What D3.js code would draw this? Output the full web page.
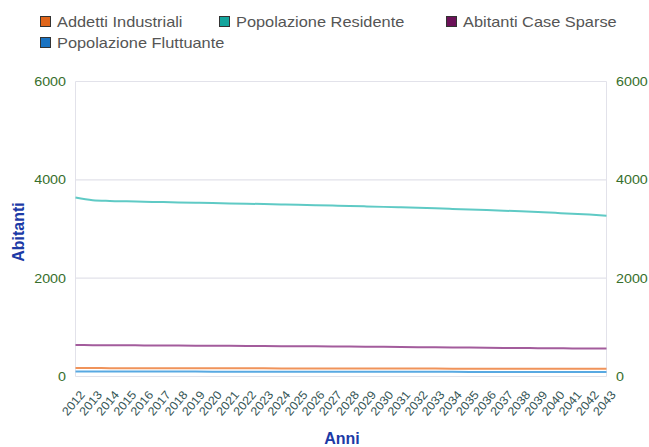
<!DOCTYPE html>
<html><head><meta charset="utf-8">
<script src="https://cdn.jsdelivr.net/npm/d3@7"></script>
<style>body{margin:0;background:#fff;font-family:Arial,"Liberation Sans",sans-serif}</style>
</head><body><svg id="c" width="649" height="447"></svg>
<script>
const years = d3.range(2012, 2044);
const seriesNames = ["Addetti Industriali","Popolazione Residente","Abitanti Case Sparse","Popolazione Fluttuante"];
const seriesColors = ["#e0651a","#14a59d","#6b1158","#1a73c2"];
const lineColors = ["#f0935a","#5fcac5","#a35c9c","#58a9e2"];
const addetti = [171,171,170,170,169,169,168,168,167,167,166,166,165,165,164,164,163,163,162,162,161,161,160,160,159,159,158,158,157,157,157,157];
const residente = [3640,3585,3570,3562,3555,3548,3541,3535,3528,3521,3514,3507,3500,3492,3484,3476,3468,3459,3450,3440,3430,3420,3409,3398,3386,3373,3359,3344,3328,3311,3293,3272];
const caseSparse = [640,638,636,635,633,631,629,627,625,623,621,619,617,615,613,611,609,606,603,600,597,594,591,588,585,582,579,577,575,572,570,568];
const fluttuante = [102,102,101,101,101,100,100,100,99,99,99,98,98,98,97,97,97,96,96,96,95,95,95,94,94,94,93,93,93,92,92,92];
const yTicks = [0,2000,4000,6000];
const allSeries = [addetti,residente,caseSparse,fluttuante];

const svg = d3.select("#c");
const m = {l:75.5,r:606.5,t:81.5,b:376.5};
const x = d3.scalePoint().domain(years).range([m.l,m.r]);
const y = d3.scaleLinear().domain([0,6000]).range([m.b,m.t]);

// grid
svg.append("g").selectAll("line").data(yTicks).join("line")
  .attr("x1",m.l).attr("x2",m.r).attr("y1",d=>y(d)).attr("y2",d=>y(d))
  .attr("stroke","#e2e2ea").attr("stroke-width",1.2);
svg.append("line").attr("x1",m.l).attr("x2",m.l).attr("y1",m.t).attr("y2",m.b).attr("stroke","#e2e2ea");
svg.append("line").attr("x1",m.r).attr("x2",m.r).attr("y1",m.t).attr("y2",m.b).attr("stroke","#e2e2ea");

// y axes
const gl = svg.append("g").attr("transform",`translate(${m.l},0)`).call(d3.axisLeft(y).tickValues(yTicks).tickSize(0).tickPadding(0).tickFormat(d3.format("d")));
const gr = svg.append("g").attr("transform",`translate(${m.r},0)`).call(d3.axisRight(y).tickValues(yTicks).tickSize(0).tickPadding(0).tickFormat(d3.format("d")));
gl.selectAll("text").attr("x",0).attr("transform","translate(-9.5,0) scale(1.1,1)");
gr.selectAll("text").attr("x",0).attr("transform","translate(9.5,0) scale(1.1,1)");
[gl,gr].forEach(g=>{g.select(".domain").remove();g.selectAll("text").attr("fill","#376f2c").attr("font-size","13px").attr("font-family","Arial,'Liberation Sans',sans-serif");});

// x axis
const gx = svg.append("g").attr("transform",`translate(0,${m.b})`).call(d3.axisBottom(x).tickSize(0).tickFormat(d=>String(d)));
gx.select(".domain").remove();
gx.selectAll("text").attr("fill","#365656").attr("font-size","12px").attr("font-family","Arial,'Liberation Sans',sans-serif")
  .attr("text-anchor","end").attr("dy",null).attr("y",null)
  .attr("transform","translate(3,13) rotate(-50) scale(1.05,1)").attr("dominant-baseline","hanging");

// lines
const line = d3.line().x((d,i)=>x(years[i])).y(d=>y(d)).curve(d3.curveMonotoneX);
svg.append("g").selectAll("path").data(allSeries).join("path")
  .attr("d",d=>line(d)).attr("fill","none").attr("stroke",(d,i)=>lineColors[i]).attr("stroke-width",2);

// titles
svg.append("text").attr("x",342).attr("y",444).attr("text-anchor","middle").attr("font-weight","bold").attr("font-size","16px").attr("fill","#1c3aa6").text("Anni");
svg.append("text").attr("transform","translate(24,232) rotate(-90)").attr("text-anchor","middle").attr("font-weight","bold").attr("font-size","16px").attr("fill","#1c3aa6").text("Abitanti");

// legend
const legPos = [[40,16],[219,16],[446,16],[40,37]];
const lg = svg.append("g").selectAll("g").data(seriesNames).join("g").attr("transform",(d,i)=>`translate(${legPos[i][0]},${legPos[i][1]})`);
lg.append("rect").attr("x",0.5).attr("y",0.5).attr("width",10).attr("height",10).attr("fill",(d,i)=>seriesColors[i]).attr("stroke","#333").attr("stroke-width",1);
lg.append("text").attr("transform","translate(17,10.5) scale(1.17,1)").attr("font-size","14px").attr("fill","#555").text(d=>d);
</script></body></html>
